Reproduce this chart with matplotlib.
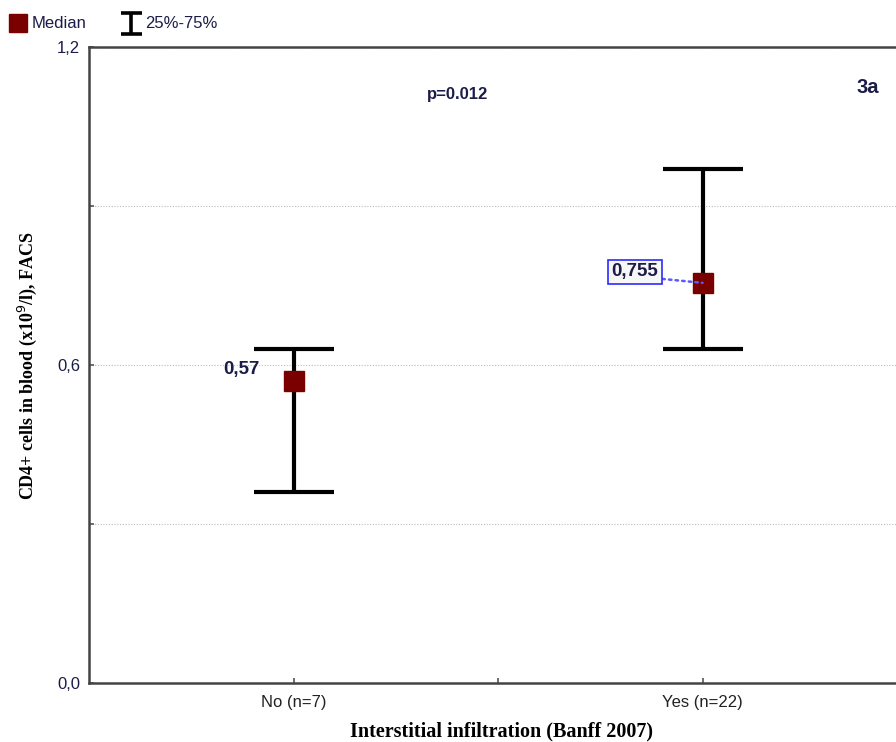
import matplotlib
matplotlib.use("Agg")
import matplotlib.pyplot as plt
from matplotlib.lines import Line2D

# data
groups = ["No (n=7)", "Yes (n=22)"]
xpos = [1, 3]
medians = [0.57, 0.755]
q25 = [0.36, 0.63]
q75 = [0.63, 0.97]
median_labels = ["0,57", "0,755"]

yticks = [0.0, 0.3, 0.6, 0.9, 1.2]
ytick_labels = ["0,0", "", "0,6", "", "1,2"]

navy = "#1c1c48"
sans = ["Liberation Sans", "DejaVu Sans"]
W, H = 896, 742
fig = plt.figure(figsize=(W / 100, H / 100), dpi=100)
ax = fig.add_axes([89 / W, 1 - 683 / H, 818 / W, 636 / H])

ax.set_xlim(0, 4)
ax.set_ylim(0, 1.2)

# whiskers (25%-75%) and medians
lower = [m - a for m, a in zip(medians, q25)]
upper = [b - m for m, b in zip(medians, q75)]
ax.errorbar(xpos, medians, yerr=[lower, upper], fmt="none", ecolor="black",
            elinewidth=3, capsize=29, capthick=3, zorder=3)
ax.plot(xpos, medians, "s", color="#7a0000", markersize=14.5, zorder=4)

# median annotations
ax.text(0.743, 0.592, median_labels[0], ha="center", va="center",
        fontsize=13.5, fontweight="bold", color=navy, family=sans)
ax.annotate(median_labels[1], xy=(xpos[1], medians[1]), xytext=(2.67, 0.776),
            ha="center", va="center", fontsize=13.5, fontweight="bold", color=navy, family=sans,
            bbox=dict(boxstyle="square,pad=0.18", fc="#f7f7f7", ec="#2b2bff", lw=1.2),
            arrowprops=dict(arrowstyle="-", color="#5a5aff", ls=":", lw=1.8,
                            shrinkA=0, shrinkB=0, relpos=(1, 0.1)), zorder=5)

ax.text(0.451, 0.925, "p=0.012", transform=ax.transAxes, ha="center", va="center",
        fontsize=12, fontweight="bold", color=navy, family=sans)
ax.text(0.952, 0.936, "3a", transform=ax.transAxes, ha="center", va="center",
        fontsize=14.5, fontweight="bold", color=navy, family=sans)

# axes styling
ax.set_yticks(yticks)
ax.set_yticklabels(ytick_labels, family=sans, fontsize=12, color=navy)
ax.set_xticks([1, 2, 3])
ax.set_xticklabels([groups[0], "", groups[1]], family=sans, fontsize=12, color="#222222")
ax.tick_params(axis="both", direction="in", length=3.5, width=1.2, color="#555555")
ax.tick_params(axis="x", pad=9)
ax.tick_params(axis="y", pad=6.5)
ax.grid(axis="y", color="#bbbbbb", ls=(0, (1, 1.5)), lw=0.8)
for s in ax.spines.values():
    s.set_color("#444444")
    s.set_linewidth(1.8)

ax.set_ylabel("CD4+ cells in blood (x10$^{9}$/l), FACS", family=["Liberation Serif"],
              fontsize=13, fontweight="bold")
ax.yaxis.set_label_coords(-62 / 818, 0.5)
ax.yaxis.label.set_va("center")
ax.set_xlabel("Interstitial infiltration (Banff 2007)", family=["Liberation Serif"],
              fontsize=14.5, fontweight="bold")
ax.xaxis.set_label_coords(412 / 818, -48 / 636)
ax.xaxis.label.set_va("center")

# legend on top, drawn by hand in pixel coordinates
def px(x, y):
    return x / W, 1 - y / H

fig.add_artist(Line2D(*zip(px(18, 23)), marker="s", color="#7a0000", markersize=12.5, ls="none"))
fig.text(*px(32, 23), "Median", ha="left", va="center", fontsize=12, color=navy, family=sans)
for seg in [((131, 13), (131, 34)), ((121, 13), (142, 13)), ((121, 34), (142, 34))]:
    (x0, y0), (x1, y1) = seg
    a, b = px(x0, y0), px(x1, y1)
    fig.add_artist(Line2D([a[0], b[0]], [a[1], b[1]], color="black", lw=2.6,
                          solid_capstyle="butt"))
fig.text(*px(145, 23), "25%-75%", ha="left", va="center", fontsize=12, color=navy, family=sans)

fig.savefig("out.png", dpi=100)
